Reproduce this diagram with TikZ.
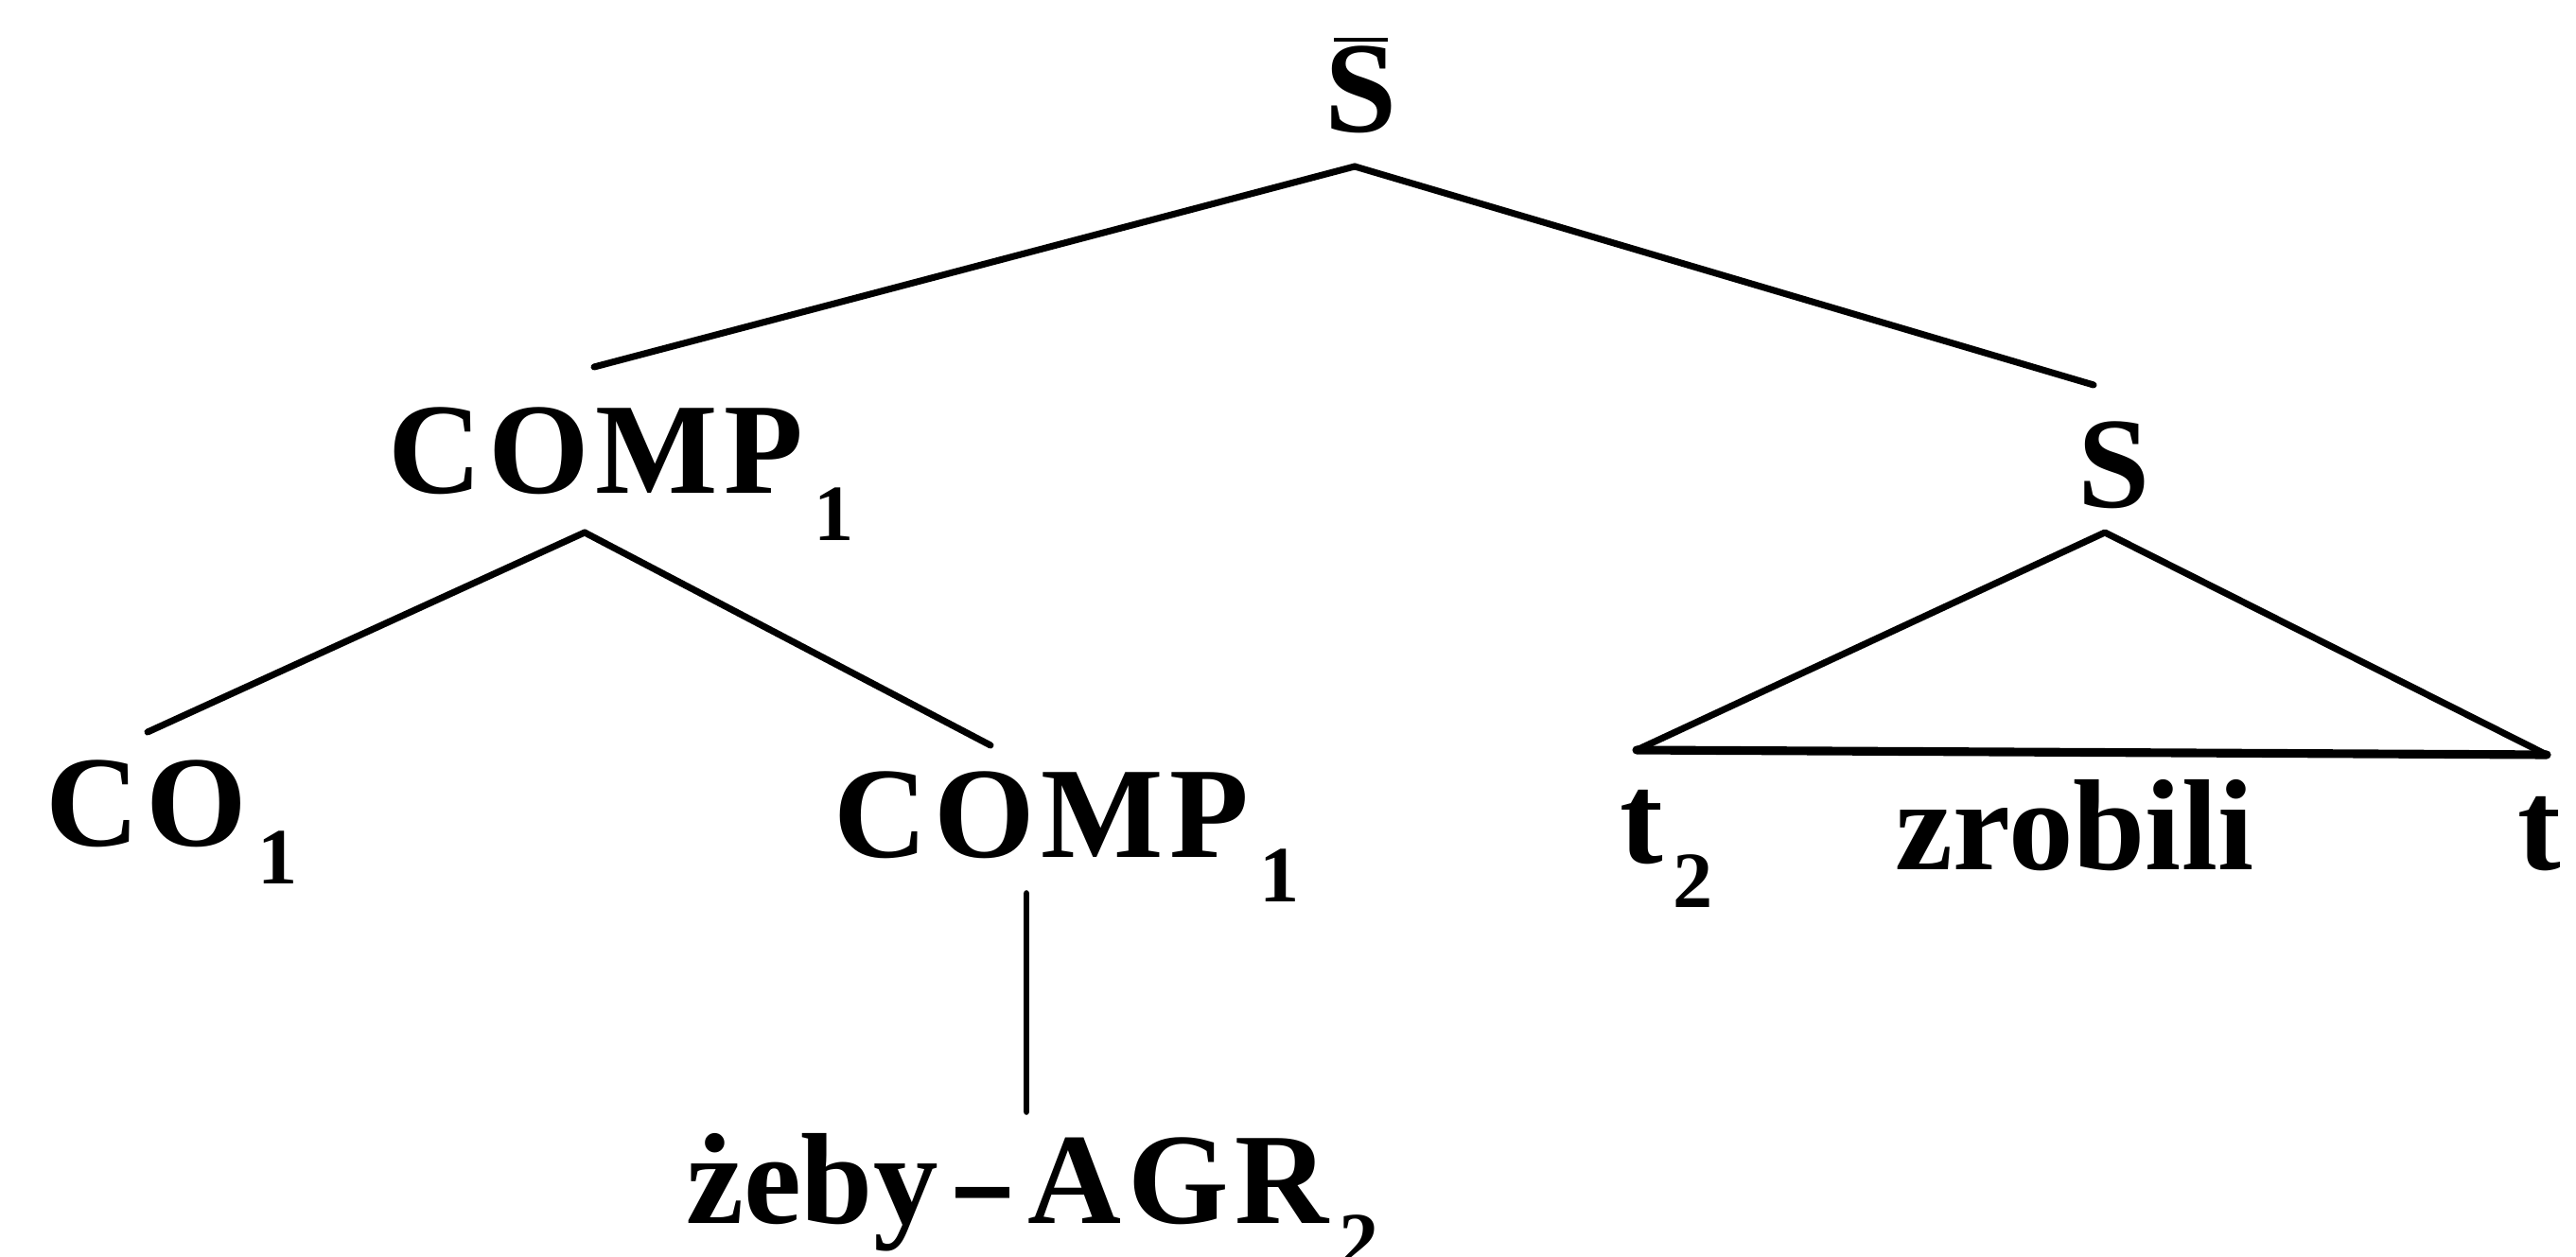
\documentclass[tikz,border=0pt]{standalone}
\usepackage{fontspec}
\setmainfont{Liberation Serif}
% subscripts hang below the baseline without widening the label
\newcommand\subsz{\fontsize{24}{24}\selectfont}
\newcommand\lsub[2][0.47cm]{\rlap{\smash{\kern0.08em\raisebox{-#1}{\subsz #2}}}}
% spaced capitals
\newcommand\caps[1]{{\addfontfeature{LetterSpace=5}#1}}
\begin{document}
\begin{tikzpicture}[
  lbl/.style={inner sep=0pt, anchor=base, font=\fontsize{39}{44}\selectfont\bfseries},
  edge/.style={line width=2pt, line cap=round, line join=round}]
\useasboundingbox (0,0) rectangle (27.23,13.28);

% labels
\node[lbl] (sbar)  at (14.39,11.88) {S};
\node[lbl] (comp1) at (6.30,8.06)   {\caps{COMP}\lsub[0.50cm]{1}};
\node[lbl] (s)     at (22.35,7.91)  {S};
\node[lbl] (co)    at (1.55,4.33)   {\caps{CO}\lsub[0.40cm]{1}};
\node[lbl] (comp2) at (11.01,4.21)  {\caps{COMP}\lsub{1}};
\node[lbl] (zeby)  at (10.65,0.35)  {żeby\kern0.08em\scalebox{1.6}[1]{-}\kern0.08em\caps{AGR}\lsub{2}};
\node[lbl] (t2)    at (17.35,4.15)  {t\lsub{2}};
\node[lbl] (zrob)  at (21.93,4.08)  {zrobili};
\node[lbl] (t1)    at (26.84,4.08)  {t\lsub{1}};

% bar over the top S
\draw[line width=1.2pt] ([shift={(-0.29,0.98)}]sbar.base) -- ([shift={(0.28,0.98)}]sbar.base);

% branches
\draw[edge] ([shift={(-0.07,-0.36)}]sbar.base) -- ([shift={(-0.02,1.34)}]comp1.base);
\draw[edge] ([shift={(-0.07,-0.36)}]sbar.base) -- ([shift={(-0.22,1.30)}]s.base);
\draw[edge] ([shift={(-0.12,-0.41)}]comp1.base) -- ([shift={(0.01,1.21)}]co.base);
\draw[edge] ([shift={(-0.12,-0.41)}]comp1.base) -- ([shift={(-0.54,1.19)}]comp2.base);
\draw[edge, line width=1.6pt] ([shift={(-0.16,-0.37)}]comp2.base) -- ([shift={(0.20,1.17)}]zeby.base);

% triangle over the S constituent
\coordinate (sA) at ([shift={(-0.10,-0.26)}]s.base);
\coordinate (sL) at ([shift={(-0.05,1.20)}]t2.base);
\coordinate (sR) at ([shift={(0.08,1.22)}]t1.base);
\draw[edge] (sL) -- (sA) -- (sR);
\draw[edge, line width=2.6pt] (sL) -- (sR);
\end{tikzpicture}
\end{document}
